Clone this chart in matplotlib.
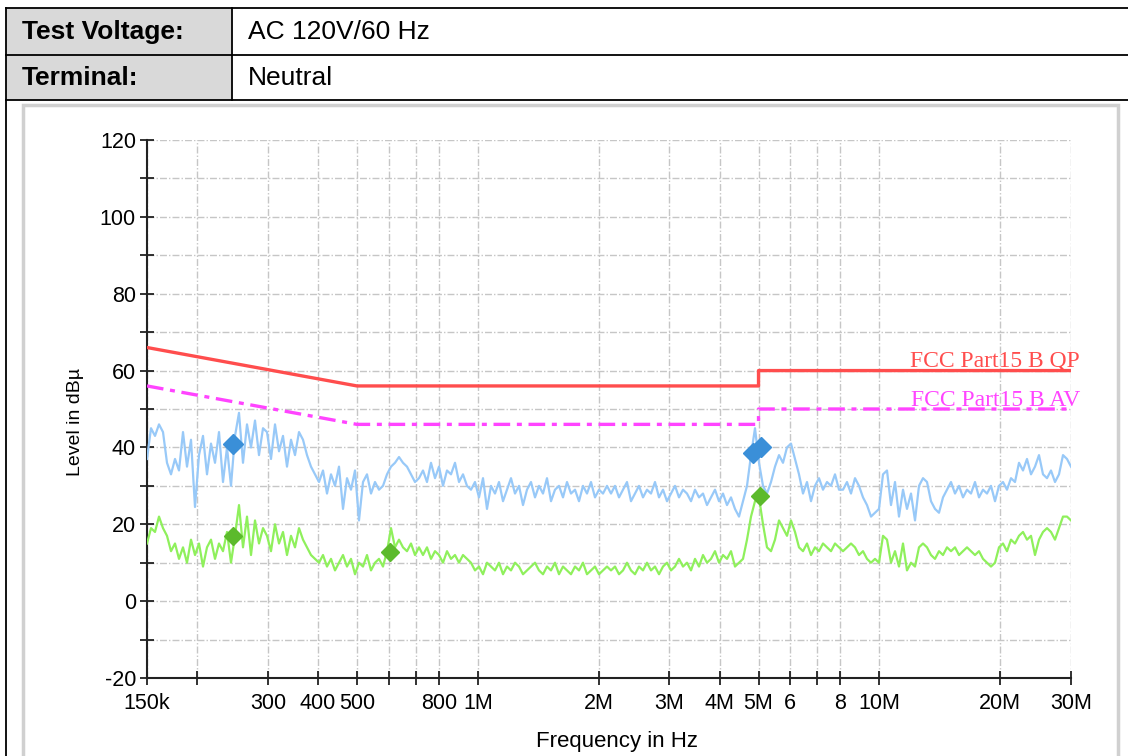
import numpy as np
import matplotlib
matplotlib.use("Agg")
import matplotlib.pyplot as plt
from matplotlib.patches import Rectangle
from matplotlib.lines import Line2D
from matplotlib.ticker import NullLocator

plt.rcParams['font.family'] = ['Liberation Sans', 'DejaVu Sans']
plt.rcParams['axes.unicode_minus'] = False

# peak scan (dBuV), sweep 150 kHz .. 30 MHz
peak_level = [37, 45, 43, 46,
              44, 36, 33, 37, 34,
              44, 35, 42, 24.5,
              38, 43, 33, 41, 36, 44,
              31, 40, 30, 43,
              49, 36, 46, 40, 47, 38, 45,
              44, 37, 46, 39, 43, 35, 42, 38, 44,
              42, 38, 35, 33,
              31, 34, 28, 33, 30, 35, 24, 32, 29, 34, 21, 31, 33, 28, 31, 29, 30,
              33, 35, 36, 37.5, 36, 35, 33, 31, 32,
              34, 31, 36, 32, 35, 30, 34, 33, 36, 31, 33, 30,
              29, 31, 27, 32, 24, 30, 28, 31, 26, 29, 32, 28, 30, 25, 29, 31, 27,
              30, 28, 32, 26, 29, 30, 27, 31, 28, 29, 26, 30, 28, 31, 27, 29, 28, 30,
              28, 30, 27, 29, 31, 26, 28, 30, 27, 29, 28, 31, 27, 29, 26, 28, 30,
              27, 29, 28, 26, 29, 27, 28, 25, 27, 29, 26, 28, 25, 27,
              24, 22, 26,
              30, 38, 45, 36,
              30, 28, 31,
              35, 38, 36, 40, 41,
              37, 33, 28, 31, 26,
              30, 32, 29, 31, 30, 33, 29,
              29, 31, 28, 32, 30, 27,
              25, 22, 23, 24,
              33, 34,
              25, 31, 22, 29, 24, 28, 21,
              30, 32, 31,
              26, 24, 23, 27,
              29, 31, 28, 30, 27, 29, 28, 31, 27, 29, 28, 30, 26,
              30, 31, 29, 32, 31,
              36, 34, 37, 33, 35, 38, 33,
              32, 34, 31, 33,
              38, 37, 35]

# average scan (dBuV)
avg_level = [15, 19, 18, 22,
             19, 17, 13, 15, 11,
             14, 10, 16, 12, 15, 9, 14, 16, 11, 15,
             13, 18, 10, 17,
             25, 14, 22, 12, 21, 15, 19,
             17, 13, 20, 15, 18, 12, 17, 14, 19,
             16, 14, 12, 11,
             10, 12, 9, 11, 8, 10, 12, 9, 11, 7, 10, 9, 12, 8, 10, 11, 9,
             13, 19, 14, 16, 14, 13, 15, 12, 14,
             12, 14, 11, 13, 12, 10, 13, 11, 12, 10, 12, 11,
             10, 8, 9, 7, 10, 9, 8, 10, 7, 9, 8, 10, 9, 7, 8, 9, 10,
             8, 7, 9, 8, 10, 7, 9, 8, 7, 9, 8, 10, 7, 8, 9, 7, 8, 9,
             8, 9, 7, 8, 10, 8, 7, 9, 8, 10, 8, 9, 7, 9, 10, 8, 9,
             11, 9, 10, 8, 11, 9, 12, 10, 11, 13, 10, 12, 11, 13,
             9, 10, 11,
             16, 22, 26, 27,
             20, 14, 13,
             16, 21, 19, 17, 21,
             18, 14, 13, 15, 12,
             14, 13, 15, 14, 13, 15, 14,
             13, 14, 15, 14, 12, 13,
             11, 10, 11, 10,
             17, 16,
             10, 13, 9, 15, 8, 10, 9,
             14, 15, 14,
             12, 11, 13, 12,
             14, 13, 14, 12, 13, 14, 13, 12, 13, 11, 10, 9, 10,
             14, 15, 13, 16, 15,
             17, 18, 16, 17, 12, 16, 18,
             19, 18, 16, 19,
             22, 22, 21]

# sweep points, log spaced over the scan range (MHz)
freq_mhz = np.geomspace(0.15, 30, len(peak_level))

# FCC Part 15 B limits
limit_freq = [0.15, 0.5, 5, 5, 30]
qp_limit = [66, 56, 56, 60, 60]
av_limit = [56, 46, 46, 50, 50]

# final measurement markers
peak_mark_f = [0.245, 4.84, 5.07]
peak_mark_l = [41, 38.5, 40.1]
avg_mark_f = [0.245, 0.606, 5.05]
avg_mark_l = [17, 12.8, 27.3]

xticks = [0.15, 0.2, 0.3, 0.4, 0.5, 0.6, 0.7, 0.8, 1, 2, 3, 4, 5, 6, 7, 8, 10, 20, 30]
xlabels = ['150k', '', '300', '400', '500', '', '', '800', '1M', '2M', '3M', '4M',
           '5M', '6', '', '8', '10M', '20M', '30M']

W, H = 1128, 756
fig = plt.figure(figsize=(W / 100, H / 100), dpi=100)


def fx(x):
    return x / W


def fy(y):
    return 1 - y / H


# header table
fig.add_artist(Rectangle((fx(6), fy(100)), (232 - 6) / W, 92 / H,
                         facecolor='#d9d9d9', edgecolor='none'))
for y in [8, 55, 100]:
    fig.add_artist(Line2D([fx(6), 1], [fy(y), fy(y)], color='black', lw=1.3))
fig.add_artist(Line2D([fx(232), fx(232)], [fy(8), fy(100)], color='black', lw=1.3))
fig.add_artist(Line2D([fx(6), fx(6)], [fy(8), 0], color='black', lw=1.3))
fig.text(fx(22), fy(32), 'Test Voltage:', fontsize=19, fontweight='bold', va='center')
fig.text(fx(248), fy(32), 'AC 120V/60 Hz', fontsize=19, va='center')
fig.text(fx(22), fy(78), 'Terminal:', fontsize=19, fontweight='bold', va='center')
fig.text(fx(248), fy(78), 'Neutral', fontsize=19, va='center')

# chart panel frame
fig.add_artist(Rectangle((fx(23), -0.05), (1118 - 23) / W, fy(105) + 0.05,
                         facecolor='none', edgecolor='#d0d0d0', lw=2.5))

ax = fig.add_axes([147 / W, 78 / H, 924 / W, 538 / H])
ax.set_xscale('log')

ax.plot(freq_mhz, peak_level, color='#98c9f8', lw=1.6, zorder=3)
ax.plot(freq_mhz, avg_level, color='#8ff05c', lw=1.6, zorder=3)
ax.plot(limit_freq, qp_limit, color='#ff4d4d', lw=2.4, zorder=4)
ax.plot(limit_freq, av_limit, color='#ff44ff', lw=2.4, zorder=4,
        linestyle=(0, (5, 2, 1.5, 2)))
ax.plot(peak_mark_f, peak_mark_l, 'D', color='#3a8fd8', ms=10, zorder=5)
ax.plot(avg_mark_f, avg_mark_l, 'D', color='#5cba2c', ms=9, zorder=5)

ty = ax.get_yaxis_transform()
ax.text(1.0097, 61.0, 'FCC Part15 B QP', transform=ty, ha='right', va='baseline',
        color='#ff4d4d', fontsize=17, family=['Liberation Serif'], clip_on=False)
ax.text(1.0097, 50.8, 'FCC Part15 B AV', transform=ty, ha='right', va='baseline',
        color='#ff44ff', fontsize=17, family=['Liberation Serif'], clip_on=False)

ax.set_xlim(0.15, 30)
ax.set_ylim(-20, 120)
ax.set_xticks(xticks)
ax.set_xticklabels(xlabels)
ax.xaxis.set_minor_locator(NullLocator())
ax.set_yticks(range(-20, 121, 20))
ax.set_yticks(range(-10, 111, 20), minor=True)

ax.grid(which='both', color='#c6c6c6', lw=1.0, linestyle=(0, (5, 1.5, 1, 1.5)), zorder=0)
ax.set_axisbelow(True)
for s in ['top', 'right']:
    ax.spines[s].set_visible(False)
for s in ['left', 'bottom']:
    ax.spines[s].set_color('#222222')
    ax.spines[s].set_linewidth(1.5)
ax.tick_params(which='both', direction='inout', length=10, width=1.3, color='#222222')
ax.tick_params(axis='x', labelsize=15.5, pad=6)
ax.tick_params(axis='y', labelsize=15.5, pad=3)

fig.text(617 / W, fy(742), 'Frequency in Hz', fontsize=16, ha='center', va='center')
fig.text(75 / W, fy(422), 'Level in dBµ', fontsize=14, ha='center', va='center',
         rotation=90)

fig.savefig('out.png', dpi=100)
